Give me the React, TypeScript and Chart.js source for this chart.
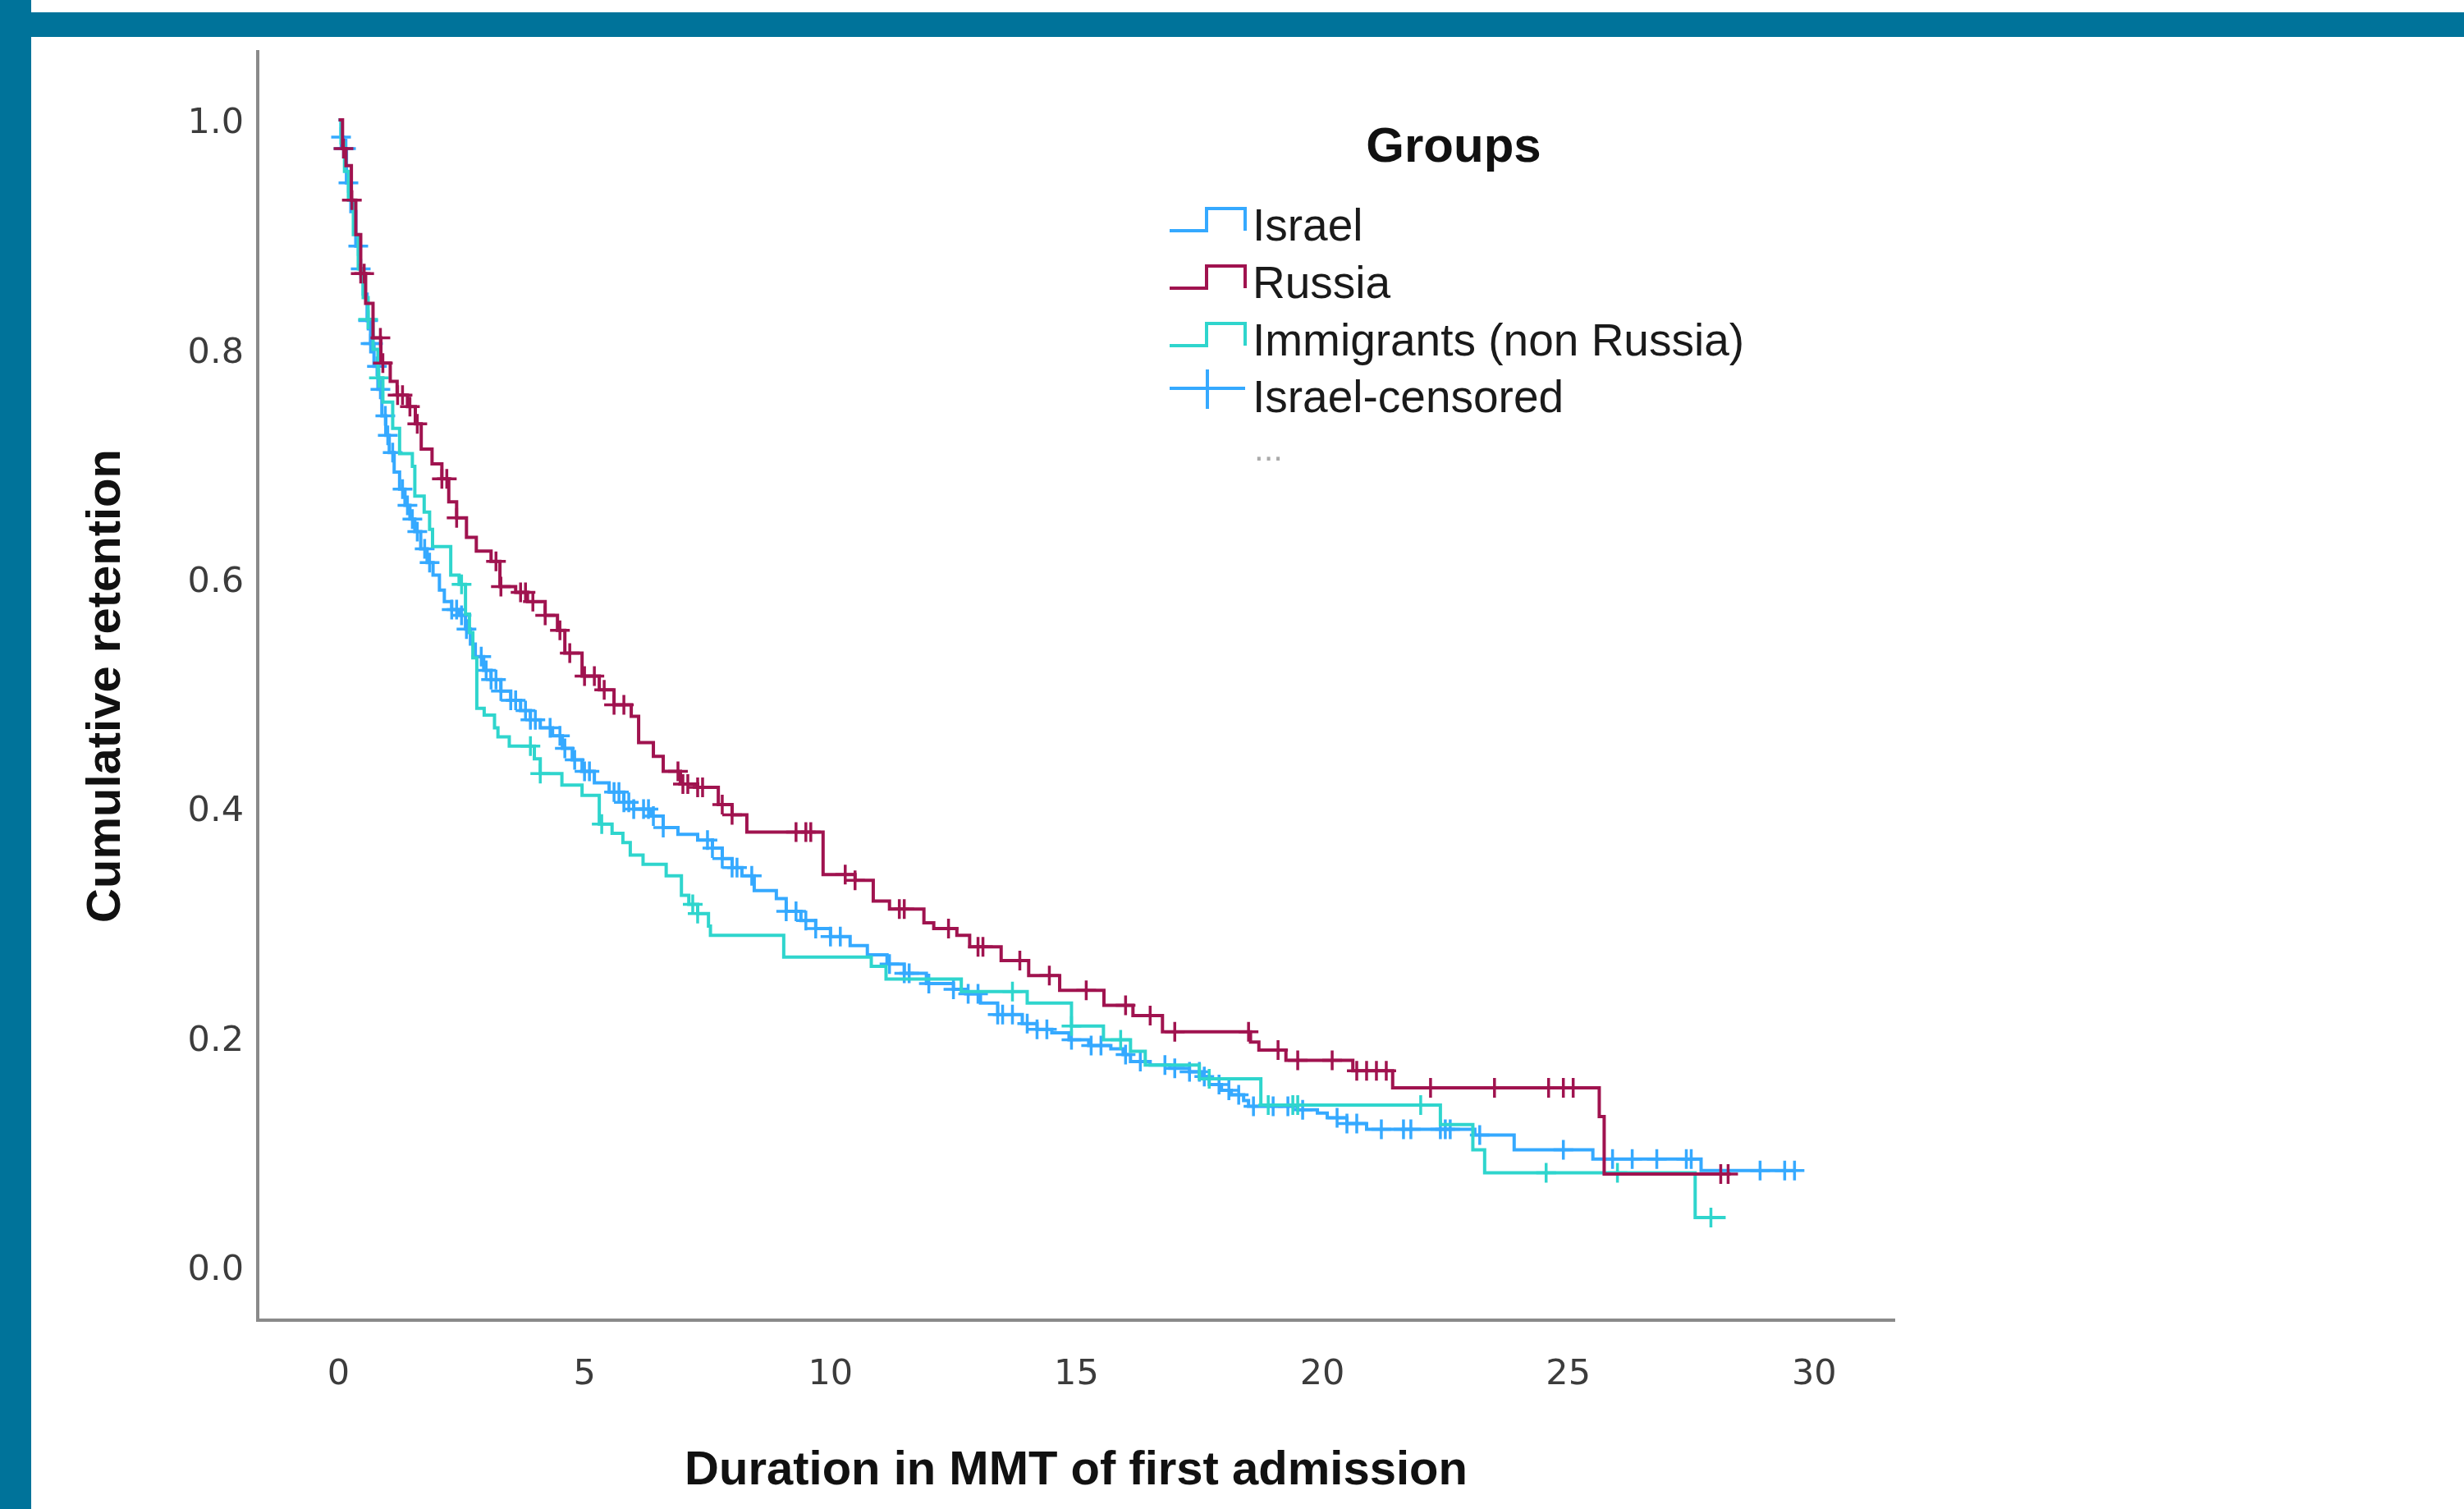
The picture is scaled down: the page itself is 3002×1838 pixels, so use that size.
import React, { useEffect, useRef } from 'react';
import { Chart, registerables } from 'chart.js';

Chart.register(...registerables);

// ---------- data ----------
const xTicks = [0, 5, 10, 15, 20, 25, 30];
const yTicks = [0, 0.2, 0.4, 0.6, 0.8, 1.0];

const legendTitle = 'Groups';
const groupLabels = ['Israel', 'Russia', 'Immigrants (non Russia)'];
const censoredLabel = 'Israel-censored';
const xTitle = 'Duration in MMT of first admission';
const yTitle = 'Cumulative retention';

// Kaplan-Meier steps: [time, survival after the step]
const israelSteps: number[][] = [
  [0, 1], [0.05, 0.985], [0.1, 0.975], [0.16, 0.945], [0.25, 0.92], [0.35, 0.89], [0.43, 0.87],
  [0.5, 0.848], [0.58, 0.825], [0.65, 0.805], [0.72, 0.785], [0.8, 0.765], [0.88, 0.742],
  [0.96, 0.725], [1.03, 0.71], [1.13, 0.693], [1.24, 0.678], [1.35, 0.664], [1.45, 0.652],
  [1.55, 0.641], [1.67, 0.626], [1.8, 0.614], [1.92, 0.603], [2.05, 0.59], [2.15, 0.58],
  [2.3, 0.573], [2.45, 0.568], [2.58, 0.556], [2.68, 0.543], [2.78, 0.532], [2.95, 0.52],
  [3.1, 0.512], [3.3, 0.502], [3.5, 0.494], [3.7, 0.485], [3.9, 0.477], [4.1, 0.47],
  [4.35, 0.463], [4.55, 0.452], [4.75, 0.442], [4.95, 0.432], [5.2, 0.422], [5.5, 0.414],
  [5.8, 0.405], [6.0, 0.399], [6.35, 0.393], [6.6, 0.383], [6.9, 0.377], [7.3, 0.372],
  [7.6, 0.365], [7.8, 0.356], [8.0, 0.348], [8.2, 0.341], [8.45, 0.328], [8.9, 0.321],
  [9.1, 0.31], [9.4, 0.302], [9.7, 0.295], [10.0, 0.288], [10.4, 0.28], [10.75, 0.272],
  [11.15, 0.264], [11.5, 0.256], [11.95, 0.247], [12.5, 0.242], [12.75, 0.238], [13.05, 0.23],
  [13.4, 0.22], [13.9, 0.212], [14.2, 0.207], [14.5, 0.204], [14.85, 0.198], [15.25, 0.193],
  [15.7, 0.19], [15.95, 0.185], [16.1, 0.179], [16.5, 0.176], [16.9, 0.173], [17.3, 0.17],
  [17.55, 0.166], [17.7, 0.159], [17.95, 0.154], [18.15, 0.15], [18.4, 0.145], [18.5, 0.14],
  [19.5, 0.137], [19.9, 0.134], [20.1, 0.13], [20.5, 0.125], [20.9, 0.12], [23.1, 0.115],
  [23.9, 0.102], [25.5, 0.094], [27.7, 0.084], [29.6, 0.084],
];

const russiaSteps: number[][] = [
  [0, 1], [0.08, 0.975], [0.15, 0.96], [0.26, 0.93], [0.35, 0.9], [0.45, 0.866], [0.55, 0.84],
  [0.7, 0.81], [0.86, 0.788], [1.05, 0.772], [1.19, 0.76], [1.4, 0.75], [1.56, 0.735],
  [1.68, 0.713], [1.9, 0.7], [2.1, 0.687], [2.24, 0.667], [2.4, 0.653], [2.6, 0.636],
  [2.8, 0.624], [3.1, 0.615], [3.28, 0.593], [3.6, 0.588], [3.84, 0.58], [4.2, 0.568],
  [4.45, 0.555], [4.6, 0.535], [4.95, 0.515], [5.3, 0.503], [5.6, 0.49], [5.95, 0.48],
  [6.1, 0.457], [6.4, 0.445], [6.6, 0.432], [6.95, 0.421], [7.3, 0.418], [7.72, 0.403],
  [8.0, 0.394], [8.3, 0.379], [9.85, 0.342], [10.5, 0.337], [10.87, 0.319], [11.2, 0.312],
  [11.9, 0.3], [12.1, 0.295], [12.57, 0.289], [12.83, 0.279], [13.47, 0.267], [14.03, 0.254],
  [14.66, 0.241], [15.56, 0.228], [16.15, 0.219], [16.75, 0.205], [18.54, 0.196], [18.71, 0.189],
  [19.26, 0.18], [20.62, 0.171], [21.43, 0.156], [25.63, 0.131], [25.73, 0.081], [28.3, 0.081],
];

const immigrantSteps: number[][] = [
  [0, 1], [0.05, 0.98], [0.12, 0.955], [0.2, 0.93], [0.3, 0.9], [0.4, 0.87], [0.5, 0.845],
  [0.6, 0.826], [0.7, 0.8], [0.8, 0.775], [0.9, 0.754], [1.1, 0.731], [1.24, 0.709],
  [1.5, 0.698], [1.55, 0.672], [1.74, 0.658], [1.85, 0.643], [1.91, 0.628], [2.28, 0.603],
  [2.45, 0.595], [2.58, 0.569], [2.66, 0.553], [2.73, 0.531], [2.81, 0.487], [2.96, 0.481],
  [3.17, 0.47], [3.24, 0.462], [3.47, 0.454], [3.98, 0.443], [4.1, 0.43], [4.54, 0.42],
  [4.95, 0.411], [5.3, 0.386], [5.56, 0.378], [5.78, 0.37], [5.93, 0.359], [6.19, 0.351],
  [6.66, 0.341], [6.97, 0.324], [7.12, 0.316], [7.3, 0.308], [7.52, 0.297], [7.56, 0.289],
  [9.05, 0.27], [10.83, 0.262], [11.13, 0.251], [12.66, 0.24], [14.0, 0.23], [14.9, 0.21],
  [15.55, 0.198], [16.1, 0.188], [16.4, 0.176], [17.5, 0.164], [18.75, 0.141], [22.4, 0.124],
  [23.06, 0.102], [23.3, 0.082], [27.58, 0.043], [28.2, 0.043],
];

// censored times (marks sit on the group's curve)
const israelCensored = [
  0.05, 0.1, 0.15, 0.2, 0.4, 0.45, 0.6, 0.65, 0.7, 0.78, 0.85, 0.95, 1.0, 1.1, 1.3, 1.4, 1.5,
  1.6, 1.75, 1.85, 2.3, 2.4, 2.5, 2.6, 2.9, 3.0, 3.1, 3.2, 3.3, 3.5, 3.6, 3.8, 3.9, 4.0, 4.3,
  4.5, 4.6, 4.8, 5.0, 5.1, 5.6, 5.7, 5.8, 5.9, 6.0, 6.2, 6.3, 6.4, 6.6, 7.5, 7.6, 7.8, 8.0,
  8.1, 8.4, 9.1, 9.3, 9.5, 9.7, 10.0, 10.2, 11.2, 11.5, 11.6, 12.0, 12.5, 12.8, 13.0, 13.4,
  13.5, 13.7, 14.0, 14.2, 14.4, 14.9, 15.3, 15.5, 16.0, 16.3, 16.8, 17.0, 17.3, 17.5, 17.6,
  17.9, 18.1, 18.3, 18.6, 19.0, 19.3, 19.6, 20.3, 20.5, 20.7, 21.2, 21.65, 21.8, 22.4, 22.5,
  22.6, 23.2, 24.9, 25.9, 26.3, 26.8, 27.4, 27.5, 28.9, 29.4, 29.6,
];
const russiaCensored = [
  0.1, 0.27, 0.45, 0.52, 0.85, 0.9, 1.2, 1.3, 1.45, 1.6, 2.1, 2.2, 2.4, 3.2, 3.3, 3.7, 3.8,
  3.95, 4.2, 4.5, 4.7, 5.0, 5.2, 5.4, 5.6, 5.8, 6.9, 7.0, 7.1, 7.3, 7.4, 7.8, 8.0, 9.3, 9.5,
  9.6, 10.3, 10.5, 11.4, 11.5, 12.4, 13.0, 13.1, 13.85, 14.45, 15.2, 16.0, 16.5, 17.0, 18.5,
  19.1, 19.5, 20.2, 20.7, 20.9, 21.1, 21.3, 22.2, 23.5, 24.6, 24.9, 25.1, 28.1, 28.25,
];
const immigrantCensored = [
  0.6, 0.82, 2.5, 3.9, 4.1, 5.35, 7.2, 7.3, 13.7, 14.9, 15.9, 17.7, 18.9, 19.4, 19.5, 22.0,
  24.55, 26.0, 27.9,
];

// ---------- styles ----------
const FRAME = '#00739a';
const BLUE = '#35a9ff';
const MAROON = '#a0134f';
const TEAL = '#2fd5cd';
const AXIS = '#8a8a8a';
const X_MIN = -1.644;
const X_MAX = 31.63;
const Y_MIN = -0.0465;
const Y_MAX = 1.0594;

const toXY = (steps: number[][]) => steps.map(([t, s]) => ({ x: t, y: s }));
const survivalAt = (steps: number[][], t: number) => {
  let s = steps[0][1];
  for (const [tt, ss] of steps) {
    if (tt <= t) s = ss;
    else break;
  }
  return s;
};
const censorPoints = (steps: number[][], times: number[]) =>
  times.map((t) => ({ x: t, y: survivalAt(steps, t) }));

const lineDs = (label: string, steps: number[][], color: string, order: number) => ({
  type: 'line' as const,
  label,
  data: toXY(steps),
  borderColor: color,
  backgroundColor: color,
  borderWidth: 4,
  stepped: 'before' as const,
  pointRadius: 0,
  fill: false,
  order,
});
const censorDs = (label: string, steps: number[][], times: number[], color: string, order: number) => ({
  type: 'line' as const,
  label,
  data: censorPoints(steps, times),
  showLine: false,
  pointStyle: 'cross' as const,
  pointRadius: 12,
  pointBorderWidth: 3.5,
  pointBorderColor: color,
  pointBackgroundColor: color,
  borderColor: color,
  order,
});

const legendPlugin = {
  id: 'kmLegend',
  afterDraw(chart: any) {
    const ctx: CanvasRenderingContext2D = chart.ctx;
    ctx.save();
    ctx.fillStyle = '#111';
    ctx.textAlign = 'center';
    ctx.textBaseline = 'alphabetic';
    ctx.font = 'bold 60px "Liberation Sans", Arial, sans-serif';
    ctx.fillText(legendTitle, 1771, 197);

    const colors = [BLUE, MAROON, TEAL];
    const baselines = [293, 363, 433, 502];
    const x0 = 1425, xm = 1470, x1 = 1517, textX = 1526;
    ctx.lineWidth = 4;
    ctx.lineJoin = 'miter';
    groupLabels.forEach((lab, i) => {
      const b = baselines[i];
      ctx.strokeStyle = colors[i];
      ctx.beginPath();
      ctx.moveTo(x0, b - 12);
      ctx.lineTo(xm, b - 12);
      ctx.lineTo(xm, b - 39);
      ctx.lineTo(x1, b - 39);
      ctx.lineTo(x1, b - 12);
      ctx.stroke();
      ctx.fillStyle = '#1a1a1a';
      ctx.textAlign = 'left';
      ctx.font = '55px "Liberation Sans", Arial, sans-serif';
      ctx.fillText(lab, textX, b);
    });
    // censored symbol
    const b = baselines[3];
    ctx.strokeStyle = BLUE;
    ctx.beginPath();
    ctx.moveTo(x0, b - 29);
    ctx.lineTo(x1, b - 29);
    ctx.moveTo(xm + 1, b - 52);
    ctx.lineTo(xm + 1, b - 4);
    ctx.stroke();
    ctx.fillStyle = '#1a1a1a';
    ctx.fillText(censoredLabel, textX, b);
    // truncated legend marker
    ctx.fillStyle = '#aaaaaa';
    ctx.font = '42px "Liberation Sans", Arial, sans-serif';
    ctx.fillText('...', textX + 2, 561);
    ctx.restore();
  },
};

export default function App() {
  const ref = useRef<HTMLCanvasElement>(null);
  useEffect(() => {
    const canvas = ref.current;
    if (!canvas) return;
    const tickFont = { family: '"DejaVu Sans", sans-serif', size: 43 };
    const titleFont = { family: '"Liberation Sans", Arial, sans-serif', size: 58, weight: 'bold' as const };
    const chart = new Chart(canvas, {
      type: 'line',
      data: {
        datasets: [
          censorDs('Russia-censored', russiaSteps, russiaCensored, MAROON, 0),
          lineDs(groupLabels[1], russiaSteps, MAROON, 1),
          censorDs('Immigrants-censored', immigrantSteps, immigrantCensored, TEAL, 2),
          lineDs(groupLabels[2], immigrantSteps, TEAL, 3),
          censorDs(censoredLabel, israelSteps, israelCensored, BLUE, 4),
          lineDs(groupLabels[0], israelSteps, BLUE, 5),
        ] as any,
      },
      options: {
        responsive: false,
        animation: false,
        devicePixelRatio: 1,
        events: [],
        layout: { padding: { left: 0, top: 63, right: 694, bottom: 0 } },
        plugins: { legend: { display: false }, tooltip: { enabled: false } },
        scales: {
          x: {
            type: 'linear',
            min: X_MIN,
            max: X_MAX,
            afterFit: (s: any) => { s.height = 230; },
            afterBuildTicks: (s: any) => { s.ticks = xTicks.map((v) => ({ value: v })); },
            grid: { display: false, drawTicks: false },
            border: { display: true, color: AXIS, width: 4 },
            ticks: {
              font: tickFont, color: '#3c3c3c', padding: 41, maxRotation: 0, autoSkip: false,
              callback: (v: any) => String(v),
            },
            title: { display: true, text: xTitle, font: titleFont, color: '#111', padding: { top: 0, bottom: 11 } },
          },
          y: {
            type: 'linear',
            min: Y_MIN,
            max: Y_MAX,
            afterFit: (s: any) => { s.width = 314; },
            afterBuildTicks: (s: any) => { s.ticks = yTicks.map((v) => ({ value: v })); },
            grid: { display: false, drawTicks: false },
            border: { display: true, color: AXIS, width: 4 },
            ticks: {
              font: tickFont, color: '#3c3c3c', padding: 17, autoSkip: false, labelOffset: 5,
              callback: (v: any) => Number(v).toFixed(1),
            },
            title: { display: true, text: yTitle, font: titleFont, color: '#111', padding: { top: 95, bottom: 0 } },
          },
        },
      } as any,
      plugins: [legendPlugin],
    });
    return () => chart.destroy();
  }, []);

  return (
    <div style={{ position: 'absolute', left: 0, top: 0, width: 3002, height: 1838, background: '#fff', overflow: 'hidden' }}>
      <div style={{ position: 'absolute', left: 0, top: 0, width: 38, height: 1838, background: FRAME }} />
      <div style={{ position: 'absolute', left: 38, top: 15, width: 2964, height: 30, background: FRAME }} />
      <canvas
        ref={ref}
        width={3002}
        height={1838}
        style={{ position: 'absolute', left: 0, top: 0, width: 3002, height: 1838 }}
      />
    </div>
  );
}
